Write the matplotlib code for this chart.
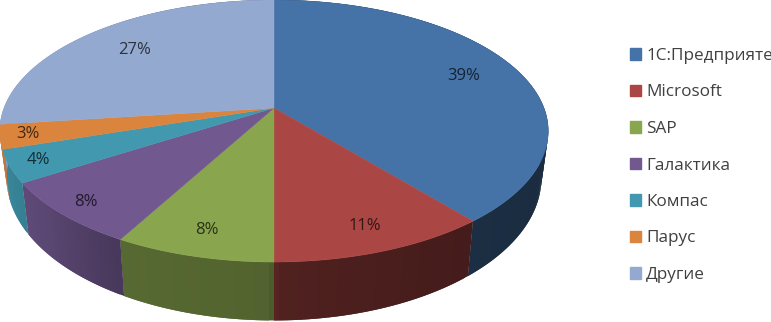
import numpy as np
import matplotlib
matplotlib.use('Agg')
from matplotlib import pyplot as plt

labels = ['1С:Предприяте', 'Microsoft', 'SAP', 'Галактика', 'Компас', 'Парус', 'Другие']
values = [39, 11, 8, 8, 4, 3, 27]
colors = ['#4573A7', '#AA4643', '#89A54E', '#71588F', '#4198AF', '#DB843D', '#93A9CF']

# how far out each percent label sits
label_r = [0.78, 0.85, 0.85, 0.9, 0.9, 0.9, 0.75]

# tilted disc, numbers in pixels
cx, cy = 274, 108
persp = 0.1756
R = 270
K = 127

plt.rcParams['font.family'] = ['Open Sans', 'DejaVu Sans']


def top_xy(ang):
    # ang in degrees clockwise from 12 o'clock
    x = np.sin(np.radians(ang))
    y = np.cos(np.radians(ang))
    den = 1 + persp * y
    return R * x / den, K * y / den


def scr_top(ang, r=1.0):
    x = r * np.sin(np.radians(ang))
    y = r * np.cos(np.radians(ang))
    den = 1 + persp * y
    return cx + R * x / den, cy - K * y / den


def scr_base(ang):
    X, Y = top_xy(ang)
    return cx + 0.975 * X, cy - (1.087 * Y - 45)


def side_shade(ang):
    x = np.sin(np.radians(ang))
    return np.interp(x, [-1, -0.75, -0.5, -0.02, 0.02, 0.64, 1],
                     [0.9, 0.8, 0.64, 0.6, 0.47, 0.4, 0.38])


fig = plt.figure(figsize=(7.71, 3.22), dpi=100)
ax = fig.add_axes([0, 0, 1, 1])
ax.set_xlim(0, 771)
ax.set_ylim(322, 0)
ax.axis('off')

edges = np.cumsum([0] + values) / sum(values) * 360

# side wall first, strips overlap the next one so no seams show
for i in range(len(values)):
    rgb = np.array(matplotlib.colors.to_rgb(colors[i]))
    angs = np.linspace(edges[i], edges[i + 1], int(values[i] * 4) + 2)
    step = angs[1] - angs[0]
    for a0 in angs[:-1]:
        a1 = min(a0 + 2 * step, edges[i + 1])
        x0, y0 = scr_top(a0)
        x1, y1 = scr_top(a1)
        x2, y2 = scr_base(a1)
        x3, y3 = scr_base(a0)
        c = rgb * side_shade(a0 + step / 2)
        ax.fill([x0, x1, x2, x3], [y0, y1, y2, y3], color=c, lw=0)

# top face
for i in range(len(values)):
    angs = np.linspace(edges[i], edges[i + 1], int(values[i] * 4) + 2)
    xs, ys = scr_top(angs)
    ax.fill(np.r_[cx, xs], np.r_[cy, ys], color=colors[i], lw=0.3)

# percent labels
for i in range(len(values)):
    mid = (edges[i] + edges[i + 1]) / 2
    tx, ty = scr_top(mid, label_r[i])
    c = np.array(matplotlib.colors.to_rgb(colors[i])) * 0.3
    ax.text(tx, ty, '%d%%' % values[i], ha='center', va='center', fontsize=12, color=c)

handles = [plt.Rectangle((0, 0), 1, 1, color=c) for c in colors]
ax.legend(handles, labels, loc='upper left', bbox_to_anchor=(630 / 771, 1 - 48 / 322),
          frameon=False, fontsize=12.3, handlelength=0.65, handleheight=0.65,
          handletextpad=0.3, labelspacing=1.2, borderpad=0, borderaxespad=0,
          labelcolor='#404040')

fig.savefig('out.png', dpi=100)
